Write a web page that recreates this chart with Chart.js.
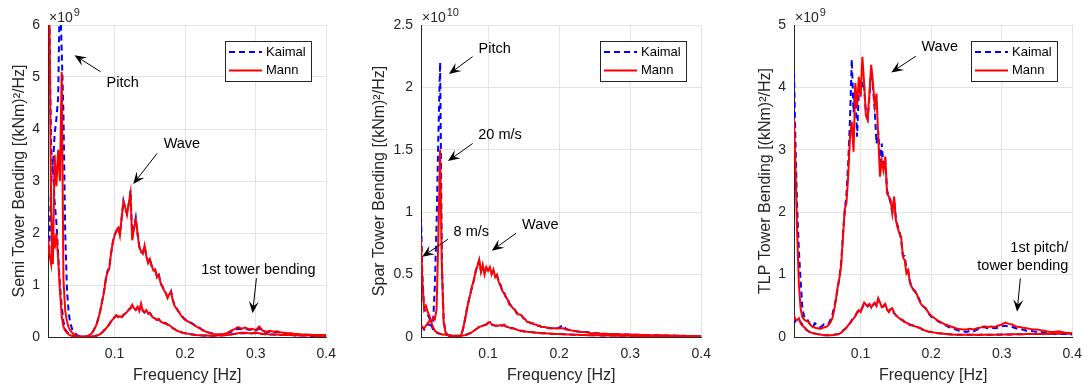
<!DOCTYPE html>
<html>
<head>
<meta charset="utf-8">
<script src="https://cdn.jsdelivr.net/npm/chart.js@4.4.1/dist/chart.umd.min.js"></script>
<style>
  body { margin: 0; background: #fff; }
  #wrap { position: relative; width: 1091px; height: 389px; }
  canvas { position: absolute; top: 0; }
</style>
</head>
<body>
<div id="wrap">
  <canvas id="semiChart" width="345" height="389" style="left:0px"></canvas>
  <canvas id="sparChart" width="360" height="389" style="left:360px"></canvas>
  <canvas id="tlpChart" width="345" height="389" style="left:746px"></canvas>
</div>
<script>
// Frequency grid shared by every panel [Hz]
const freq = [
  0.0056, 0.0075, 0.01, 0.0125, 0.015, 0.0175, 0.02, 0.0225, 0.025,
  0.0275, 0.03, 0.0325, 0.035, 0.0375, 0.04, 0.0425, 0.045, 0.0475, 0.05,
  0.0525, 0.055, 0.0575, 0.06, 0.0625, 0.065, 0.0675, 0.07, 0.0725, 0.075,
  0.0775, 0.08, 0.0825, 0.085, 0.0875, 0.09, 0.0925, 0.095, 0.0975, 0.1,
  0.1025, 0.105, 0.1075, 0.11, 0.1125, 0.115, 0.1175, 0.12, 0.1225, 0.125,
  0.1275, 0.13, 0.1325, 0.135, 0.1375, 0.14, 0.1425, 0.145, 0.1475, 0.15,
  0.1525, 0.155, 0.1575, 0.16, 0.1625, 0.165, 0.1675, 0.17, 0.1725, 0.175,
  0.1775, 0.18, 0.1825, 0.185, 0.1875, 0.19, 0.1925, 0.195, 0.1975, 0.2,
  0.205, 0.21, 0.215, 0.22, 0.225, 0.23, 0.235, 0.24, 0.245, 0.25,
  0.255, 0.26, 0.265, 0.27, 0.275, 0.28, 0.285, 0.29, 0.295, 0.3,
  0.305, 0.31, 0.315, 0.32, 0.325, 0.33, 0.335, 0.34, 0.345, 0.35,
  0.355, 0.36, 0.365, 0.37, 0.375, 0.38, 0.385, 0.39, 0.395, 0.4
];
const xTicks = [0.1, 0.2, 0.3, 0.4];

// Semi tower bending PSD, x10^9 (kNm)^2/Hz
const semiMann20 = [
  9.5, 6.5, 2.4, 1.4, 3.5, 2.9, 3.6, 3.0, 5.1,
  1.1, 0.5, 0.3, 0.18, 0.12, 0.08, 0.05, 0.03, 0.02, 0.015,
  0.01, 0.008, 0.006, 0.01, 0.02, 0.04, 0.07, 0.12, 0.18, 0.26,
  0.38, 0.52, 0.7, 0.86, 1.12, 1.25, 1.32, 1.62, 1.82, 1.95,
  2.05, 2.1, 1.95, 2.3, 2.6, 2.5, 2.35, 2.57, 2.77, 1.86,
  2.1, 2.25, 2.0, 1.72, 1.65, 1.6, 1.76, 1.55, 1.42, 1.5,
  1.38, 1.28, 1.3, 1.15, 1.2, 1.05, 0.97, 0.9, 0.85, 0.75,
  0.82, 0.87, 0.7, 0.6, 0.55, 0.5, 0.45, 0.4, 0.36, 0.33,
  0.29, 0.25, 0.21, 0.17, 0.13, 0.1, 0.08, 0.06, 0.05, 0.05,
  0.06, 0.08, 0.12, 0.15, 0.19, 0.16, 0.18, 0.15, 0.16, 0.13,
  0.2, 0.12, 0.1, 0.12, 0.1, 0.11, 0.09, 0.08, 0.07, 0.07,
  0.06, 0.06, 0.05, 0.05, 0.05, 0.04, 0.04, 0.04, 0.04, 0.04
];
const semiKaimal20 = [
  9.0, 6.2, 3.6, 3.3, 3.9, 4.2, 4.6, 6.8, 5.5,
  4.3, 2.0, 0.9, 0.45, 0.25, 0.15, 0.1, 0.06, 0.03, 0.02,
  0.01, 0.008, 0.006, 0.01, 0.02, 0.04, 0.07, 0.12, 0.19, 0.27,
  0.4, 0.53, 0.7, 0.88, 1.1, 1.27, 1.35, 1.6, 1.83, 1.97,
  2.03, 2.12, 1.98, 2.28, 2.62, 2.48, 2.38, 2.55, 2.82, 1.9,
  2.12, 2.3, 1.98, 1.75, 1.63, 1.62, 1.74, 1.57, 1.45, 1.5,
  1.36, 1.3, 1.28, 1.17, 1.22, 1.03, 0.98, 0.92, 0.84, 0.77,
  0.8, 0.88, 0.72, 0.6, 0.57, 0.5, 0.46, 0.42, 0.37, 0.34,
  0.3, 0.26, 0.22, 0.18, 0.13, 0.1, 0.08, 0.06, 0.05, 0.05,
  0.05, 0.07, 0.1, 0.13, 0.16, 0.15, 0.16, 0.14, 0.14, 0.12,
  0.16, 0.11, 0.09, 0.1, 0.09, 0.1, 0.08, 0.07, 0.06, 0.06,
  0.05, 0.05, 0.05, 0.04, 0.04, 0.04, 0.03, 0.03, 0.03, 0.03
];
const semiMann8 = [
  1.9, 1.6, 1.4, 2.1, 1.7, 2.0, 1.5, 0.9, 0.4,
  0.2, 0.12, 0.08, 0.05, 0.03, 0.02, 0.015, 0.01, 0.008, 0.006,
  0.005, 0.005, 0.005, 0.005, 0.005, 0.006, 0.008, 0.01, 0.02, 0.03,
  0.04, 0.06, 0.09, 0.12, 0.16, 0.2, 0.24, 0.3, 0.34, 0.38,
  0.42, 0.38, 0.4, 0.38, 0.42, 0.45, 0.48, 0.52, 0.56, 0.62,
  0.55, 0.52, 0.58, 0.5, 0.64, 0.5, 0.48, 0.52, 0.45, 0.47,
  0.4, 0.37, 0.36, 0.33, 0.35, 0.3, 0.28, 0.26, 0.27, 0.24,
  0.23, 0.2, 0.17, 0.15, 0.13, 0.11, 0.1, 0.09, 0.08, 0.07,
  0.06, 0.05, 0.04, 0.035, 0.03, 0.03, 0.025, 0.025, 0.03, 0.03,
  0.035, 0.04, 0.05, 0.06, 0.07, 0.08, 0.08, 0.07, 0.07, 0.08,
  0.07, 0.06, 0.06, 0.05, 0.05, 0.05, 0.04, 0.04, 0.04, 0.04,
  0.04, 0.03, 0.03, 0.03, 0.03, 0.03, 0.02, 0.02, 0.02, 0.02
];
const semiKaimal8 = [
  1.75, 1.7, 3.0, 3.3, 2.6, 2.2, 1.6, 1.0, 0.6,
  0.3, 0.15, 0.1, 0.06, 0.04, 0.025, 0.018, 0.012, 0.009, 0.007,
  0.005, 0.005, 0.005, 0.005, 0.005, 0.006, 0.008, 0.012, 0.02, 0.03,
  0.045, 0.06, 0.09, 0.13, 0.16, 0.2, 0.25, 0.3, 0.35, 0.38,
  0.41, 0.39, 0.4, 0.37, 0.43, 0.45, 0.47, 0.53, 0.55, 0.6,
  0.56, 0.52, 0.57, 0.5, 0.62, 0.5, 0.47, 0.51, 0.45, 0.46,
  0.41, 0.37, 0.35, 0.33, 0.34, 0.3, 0.28, 0.27, 0.26, 0.24,
  0.22, 0.2, 0.17, 0.15, 0.13, 0.11, 0.1, 0.09, 0.08, 0.07,
  0.06, 0.05, 0.04, 0.035, 0.03, 0.03, 0.025, 0.025, 0.03, 0.03,
  0.035, 0.04, 0.05, 0.06, 0.065, 0.07, 0.07, 0.07, 0.07, 0.07,
  0.06, 0.06, 0.05, 0.05, 0.05, 0.04, 0.04, 0.04, 0.04, 0.04,
  0.03, 0.03, 0.03, 0.03, 0.03, 0.02, 0.02, 0.02, 0.02, 0.02
];

// Spar tower bending PSD, x10^10 (kNm)^2/Hz
const sparMann20 = [
  0.09, 0.08, 0.07, 0.09, 0.11, 0.13, 0.12, 0.15, 0.14,
  0.22, 0.8, 1.5, 0.55, 0.12, 0.04, 0.02, 0.01, 0.005, 0.002,
  0.001, 0.001, 0.002, 0.005, 0.02, 0.07, 0.14, 0.21, 0.29, 0.34,
  0.41, 0.45, 0.53, 0.57, 0.62, 0.52, 0.58, 0.5, 0.56, 0.53,
  0.56, 0.5, 0.54, 0.48, 0.5, 0.44, 0.41, 0.37, 0.35, 0.32,
  0.3, 0.26, 0.25, 0.23, 0.22, 0.19, 0.18, 0.18, 0.17, 0.15,
  0.14, 0.12, 0.12, 0.11, 0.11, 0.1, 0.1, 0.09, 0.09, 0.08,
  0.08, 0.08, 0.075, 0.07, 0.07, 0.07, 0.07, 0.07, 0.068, 0.07,
  0.07, 0.06, 0.055, 0.05, 0.045, 0.04, 0.04, 0.035, 0.03, 0.03,
  0.028, 0.027, 0.026, 0.025, 0.024, 0.023, 0.022, 0.021, 0.02, 0.02,
  0.019, 0.018, 0.017, 0.016, 0.016, 0.015, 0.015, 0.014, 0.014, 0.013,
  0.012, 0.012, 0.011, 0.01, 0.01, 0.009, 0.008, 0.008, 0.007, 0.006
];
const sparKaimal20 = [
  0.09, 0.08, 0.06, 0.08, 0.1, 0.1, 0.09, 0.1, 0.4,
  0.9, 1.6, 2.2, 0.6, 0.13, 0.045, 0.02, 0.01, 0.005, 0.002,
  0.001, 0.001, 0.002, 0.005, 0.02, 0.07, 0.14, 0.22, 0.28, 0.35,
  0.4, 0.46, 0.52, 0.58, 0.61, 0.53, 0.57, 0.51, 0.55, 0.54,
  0.55, 0.51, 0.53, 0.49, 0.49, 0.45, 0.42, 0.37, 0.36, 0.32,
  0.31, 0.27, 0.25, 0.24, 0.22, 0.2, 0.18, 0.18, 0.17, 0.15,
  0.14, 0.13, 0.12, 0.11, 0.11, 0.1, 0.1, 0.09, 0.09, 0.08,
  0.08, 0.08, 0.075, 0.075, 0.07, 0.07, 0.07, 0.07, 0.07, 0.075,
  0.095, 0.065, 0.055, 0.05, 0.045, 0.045, 0.04, 0.04, 0.03, 0.03,
  0.03, 0.028, 0.026, 0.025, 0.024, 0.023, 0.022, 0.021, 0.02, 0.02,
  0.019, 0.018, 0.017, 0.016, 0.016, 0.015, 0.015, 0.014, 0.014, 0.013,
  0.012, 0.012, 0.011, 0.01, 0.01, 0.009, 0.008, 0.008, 0.007, 0.006
];
const sparMann8 = [
  0.79, 0.45, 0.22, 0.25, 0.2, 0.17, 0.12, 0.08, 0.05,
  0.04, 0.03, 0.025, 0.02, 0.02, 0.018, 0.016, 0.014, 0.012, 0.01,
  0.01, 0.01, 0.01, 0.01, 0.01, 0.012, 0.015, 0.02, 0.025, 0.03,
  0.04, 0.05, 0.06, 0.07, 0.08, 0.085, 0.09, 0.095, 0.1, 0.115,
  0.12, 0.1, 0.095, 0.09, 0.09, 0.09, 0.095, 0.09, 0.1, 0.085,
  0.08, 0.075, 0.07, 0.07, 0.065, 0.06, 0.055, 0.05, 0.05, 0.045,
  0.045, 0.042, 0.04, 0.04, 0.038, 0.036, 0.035, 0.034, 0.032, 0.03,
  0.03, 0.03, 0.028, 0.028, 0.027, 0.026, 0.025, 0.025, 0.024, 0.024,
  0.022, 0.021, 0.02, 0.019, 0.018, 0.017, 0.016, 0.015, 0.015, 0.014,
  0.014, 0.013, 0.013, 0.012, 0.012, 0.011, 0.011, 0.01, 0.01, 0.01,
  0.01, 0.009, 0.009, 0.009, 0.008, 0.008, 0.008, 0.007, 0.007, 0.007,
  0.007, 0.006, 0.006, 0.006, 0.006, 0.005, 0.005, 0.005, 0.005, 0.005
];
const sparKaimal8 = [
  0.97, 0.5, 0.22, 0.2, 0.18, 0.15, 0.1, 0.06, 0.04,
  0.035, 0.03, 0.025, 0.022, 0.02, 0.018, 0.016, 0.014, 0.012, 0.01,
  0.01, 0.01, 0.01, 0.01, 0.01, 0.012, 0.015, 0.02, 0.026, 0.032,
  0.04, 0.05, 0.06, 0.07, 0.08, 0.085, 0.09, 0.095, 0.1, 0.11,
  0.115, 0.1, 0.095, 0.09, 0.092, 0.09, 0.095, 0.09, 0.095, 0.085,
  0.08, 0.075, 0.07, 0.07, 0.065, 0.06, 0.055, 0.05, 0.05, 0.045,
  0.045, 0.042, 0.04, 0.04, 0.038, 0.036, 0.035, 0.034, 0.032, 0.03,
  0.03, 0.03, 0.028, 0.028, 0.027, 0.026, 0.025, 0.025, 0.024, 0.024,
  0.022, 0.021, 0.02, 0.019, 0.018, 0.017, 0.016, 0.015, 0.015, 0.014,
  0.014, 0.013, 0.013, 0.012, 0.012, 0.011, 0.011, 0.01, 0.01, 0.01,
  0.01, 0.009, 0.009, 0.009, 0.008, 0.008, 0.008, 0.007, 0.007, 0.007,
  0.007, 0.006, 0.006, 0.006, 0.006, 0.005, 0.005, 0.005, 0.005, 0.005
];

// TLP tower bending PSD, x10^9 (kNm)^2/Hz
const tlpMann20 = [
  3.5, 2.8, 1.7, 0.85, 0.45, 0.32, 0.28, 0.26, 0.25,
  0.22, 0.18, 0.16, 0.15, 0.14, 0.14, 0.13, 0.14, 0.15, 0.16,
  0.17, 0.2, 0.24, 0.3, 0.43, 0.6, 0.8, 0.95, 1.15, 1.6,
  2.05, 2.15, 2.6, 3.2, 3.45, 2.97, 4.07, 3.69, 4.17, 3.85,
  4.49, 4.07, 3.55, 3.48, 3.9, 4.36, 4.07, 3.7, 3.9, 3.21,
  2.57, 2.83, 2.67, 2.89, 2.3, 2.25, 2.2, 1.98, 2.25, 1.87,
  1.75, 1.66, 1.6, 1.28, 1.23, 1.02, 1.07, 0.86, 0.8, 0.75,
  0.72, 0.68, 0.6, 0.54, 0.5, 0.48, 0.46, 0.41, 0.37, 0.34,
  0.3, 0.26, 0.23, 0.2, 0.18, 0.16, 0.14, 0.13, 0.12, 0.12,
  0.13, 0.12, 0.14, 0.15, 0.17, 0.16, 0.17, 0.16, 0.18, 0.2,
  0.23, 0.21, 0.2, 0.17, 0.16, 0.15, 0.14, 0.13, 0.12, 0.12,
  0.11, 0.1, 0.09, 0.08, 0.08, 0.09, 0.08, 0.07, 0.06, 0.06
];
const tlpKaimal20 = [
  4.25, 3.2, 2.1, 1.4, 0.9, 0.45, 0.33, 0.28, 0.27,
  0.22, 0.16, 0.16, 0.22, 0.2, 0.17, 0.16, 0.17, 0.2, 0.19,
  0.2, 0.22, 0.28, 0.36, 0.48, 0.6, 0.78, 0.95, 1.2, 1.65,
  2.0, 2.3, 2.8, 3.5, 4.45, 3.6, 4.0, 3.21, 3.95, 3.9,
  4.1, 4.0, 3.6, 3.5, 3.85, 4.3, 4.0, 3.65, 3.1, 3.3,
  2.8, 3.1, 2.7, 2.8, 2.35, 2.25, 2.15, 2.0, 2.2, 1.9,
  1.78, 1.7, 1.55, 1.3, 1.3, 1.08, 1.05, 0.88, 0.82, 0.76,
  0.73, 0.68, 0.62, 0.56, 0.5, 0.48, 0.45, 0.4, 0.36, 0.33,
  0.29, 0.25, 0.22, 0.19, 0.16, 0.14, 0.12, 0.1, 0.09, 0.08,
  0.1, 0.09, 0.12, 0.14, 0.16, 0.14, 0.15, 0.14, 0.15, 0.17,
  0.18, 0.17, 0.16, 0.14, 0.12, 0.12, 0.1, 0.1, 0.09, 0.08,
  0.08, 0.07, 0.07, 0.06, 0.05, 0.05, 0.05, 0.05, 0.04, 0.04
];
const tlpMann8 = [
  0.35, 0.28, 0.27, 0.3, 0.22, 0.18, 0.16, 0.13, 0.1,
  0.085, 0.07, 0.06, 0.055, 0.05, 0.045, 0.04, 0.035, 0.03, 0.03,
  0.03, 0.03, 0.03, 0.03, 0.035, 0.04, 0.045, 0.05, 0.07, 0.1,
  0.12, 0.15, 0.19, 0.22, 0.26, 0.3, 0.33, 0.4, 0.43, 0.4,
  0.48, 0.55, 0.52, 0.5, 0.53, 0.47, 0.52, 0.55, 0.5, 0.62,
  0.55, 0.48, 0.5, 0.53, 0.44, 0.4, 0.45, 0.46, 0.38, 0.35,
  0.32, 0.3, 0.28, 0.27, 0.24, 0.23, 0.21, 0.19, 0.19, 0.18,
  0.17, 0.16, 0.15, 0.14, 0.12, 0.11, 0.1, 0.09, 0.085, 0.08,
  0.07, 0.06, 0.055, 0.05, 0.045, 0.04, 0.038, 0.035, 0.035, 0.035,
  0.035, 0.036, 0.034, 0.035, 0.037, 0.036, 0.035, 0.038, 0.04, 0.04,
  0.042, 0.04, 0.043, 0.045, 0.044, 0.046, 0.048, 0.05, 0.05, 0.05,
  0.052, 0.05, 0.053, 0.055, 0.055, 0.058, 0.06, 0.06, 0.06, 0.06
];
const tlpKaimal8 = [
  0.33, 0.25, 0.28, 0.27, 0.24, 0.2, 0.15, 0.12, 0.1,
  0.08, 0.07, 0.06, 0.055, 0.05, 0.045, 0.04, 0.035, 0.032, 0.03,
  0.03, 0.03, 0.03, 0.032, 0.035, 0.04, 0.045, 0.055, 0.075, 0.1,
  0.13, 0.15, 0.2, 0.22, 0.27, 0.3, 0.34, 0.39, 0.42, 0.41,
  0.47, 0.54, 0.52, 0.49, 0.52, 0.48, 0.51, 0.54, 0.5, 0.6,
  0.54, 0.48, 0.49, 0.52, 0.44, 0.41, 0.44, 0.45, 0.38, 0.35,
  0.32, 0.3, 0.28, 0.26, 0.24, 0.23, 0.21, 0.2, 0.19, 0.18,
  0.17, 0.16, 0.15, 0.14, 0.12, 0.11, 0.1, 0.09, 0.085, 0.08,
  0.07, 0.06, 0.055, 0.05, 0.045, 0.04, 0.038, 0.035, 0.035, 0.035,
  0.035, 0.035, 0.034, 0.035, 0.036, 0.036, 0.035, 0.037, 0.038, 0.04,
  0.04, 0.04, 0.042, 0.044, 0.044, 0.045, 0.046, 0.048, 0.048, 0.05,
  0.05, 0.05, 0.052, 0.053, 0.054, 0.055, 0.056, 0.057, 0.058, 0.058
];

// Text + arrow annotations, in data units of each panel
const semiNotes = {
  exp: '9',
  texts: [
    { t: 'Pitch', x: 0.0885, y: 4.89 },
    { t: 'Wave', x: 0.1695, y: 3.72 },
    { t: '1st tower bending', x: 0.2227, y: 1.29 }
  ],
  arrows: [[0.0802, 5.10, 0.0431, 5.42], [0.1602, 3.53, 0.1264, 2.94], [0.301, 1.13, 0.2955, 0.456]]
};
const sparNotes = {
  exp: '10',
  texts: [
    { t: 'Pitch', x: 0.0866, y: 2.305 },
    { t: '20 m/s', x: 0.0862, y: 1.62 },
    { t: '8 m/s', x: 0.0514, y: 0.844 },
    { t: 'Wave', x: 0.1477, y: 0.897 }
  ],
  arrows: [[0.0782, 2.246, 0.0449, 2.107], [0.0782, 1.55, 0.0435, 1.41], [0.0435, 0.783, 0.0074, 0.643], [0.1394, 0.831, 0.1052, 0.692]]
};
const tlpNotes = {
  exp: '9',
  texts: [
    { t: 'Wave', x: 0.1862, y: 4.65 },
    { t: '1st pitch/', x: 0.3945, y: 1.42, align: 'right' },
    { t: 'tower bending', x: 0.3945, y: 1.13, align: 'right' }
  ],
  arrows: [[0.1783, 4.5, 0.1435, 4.24], [0.3264, 0.94, 0.3218, 0.405]]
};

const FONT = "'Liberation Sans', Arial, Helvetica, sans-serif";
const INK = '#262626';
Chart.defaults.font.family = FONT;
Chart.defaults.color = INK;

function pairs(values) {
  return freq.map((f, i) => ({ x: f, y: values[i] }));
}

function lineSet(label, values, color, dashed) {
  return {
    label: label,
    data: pairs(values),
    borderColor: color,
    borderWidth: 2,
    borderDash: dashed ? [6, 4] : [],
    pointRadius: 0,
    tension: 0,
    fill: false,
    order: dashed ? 2 : 1
  };
}

function drawArrow(ctx, x1, y1, x2, y2) {
  const ang = Math.atan2(y2 - y1, x2 - x1);
  const L = 12, W = 5;
  ctx.save();
  ctx.strokeStyle = '#000';
  ctx.fillStyle = '#000';
  ctx.lineWidth = 1;
  ctx.beginPath();
  ctx.moveTo(x1, y1);
  ctx.lineTo(x2 - L * 0.6 * Math.cos(ang), y2 - L * 0.6 * Math.sin(ang));
  ctx.stroke();
  ctx.translate(x2, y2);
  ctx.rotate(ang);
  ctx.beginPath();
  ctx.moveTo(0, 0);
  ctx.lineTo(-L, -W);
  ctx.lineTo(-L * 0.6, 0);
  ctx.lineTo(-L, W);
  ctx.closePath();
  ctx.fill();
  ctx.restore();
}

// draws the legend box, the x10^n label and the annotations
function notesPlugin(notes) {
  return {
    id: 'notes',
    afterDraw(chart) {
      const ctx = chart.ctx;
      const a = chart.chartArea;
      const sx = chart.scales.x, sy = chart.scales.y;

      notes.arrows.forEach(ar => {
        drawArrow(ctx, sx.getPixelForValue(ar[0]), sy.getPixelForValue(ar[1]),
          sx.getPixelForValue(ar[2]), sy.getPixelForValue(ar[3]));
      });

      ctx.save();
      ctx.fillStyle = '#000';
      ctx.font = '14.5px ' + FONT;
      ctx.textBaseline = 'middle';
      notes.texts.forEach(t => {
        ctx.textAlign = t.align || 'left';
        ctx.fillText(t.t, sx.getPixelForValue(t.x), sy.getPixelForValue(t.y));
      });

      // exponent label
      ctx.fillStyle = INK;
      ctx.textAlign = 'left';
      ctx.textBaseline = 'alphabetic';
      ctx.font = '14px ' + FONT;
      ctx.fillText('\u00d710', a.left + 1, 22);
      const w = ctx.measureText('\u00d710').width;
      ctx.font = '11px ' + FONT;
      ctx.fillText(notes.exp, a.left + 2 + w, 16);

      // legend
      const bw = 86, bh = 40;
      const left = Math.round(a.right - 15 - bw), top = Math.round(a.top + 16);
      ctx.fillStyle = '#fff';
      ctx.fillRect(left, top, bw, bh);
      ctx.strokeStyle = INK;
      ctx.lineWidth = 1;
      ctx.strokeRect(left + 0.5, top + 0.5, bw, bh);
      const rows = [
        { label: 'Kaimal', color: '#0000ff', dash: [6, 4] },
        { label: 'Mann', color: '#ff0000', dash: [] }
      ];
      rows.forEach((r, i) => {
        const y = top + 11 + i * 18.5;
        ctx.beginPath();
        ctx.setLineDash(r.dash);
        ctx.strokeStyle = r.color;
        ctx.lineWidth = 2;
        ctx.moveTo(left + 4, y);
        ctx.lineTo(left + 37, y);
        ctx.stroke();
        ctx.setLineDash([]);
        ctx.fillStyle = '#000';
        ctx.font = '13px ' + FONT;
        ctx.textBaseline = 'middle';
        ctx.fillText(r.label, left + 41, y);
      });
      ctx.restore();
    }
  };
}

function makeChart(id, sets, opts) {
  const ctx = document.getElementById(id).getContext('2d');
  return new Chart(ctx, {
    type: 'line',
    data: { datasets: sets },
    options: {
      responsive: false,
      animation: false,
      layout: { padding: { top: 25, right: opts.padRight, left: 0, bottom: 0 } },
      plugins: { legend: { display: false }, tooltip: { enabled: false } },
      scales: {
        x: {
          type: 'linear',
          min: 0.0056,
          max: 0.4,
          afterBuildTicks: s => { s.ticks = xTicks.map(v => ({ value: v })); },
          afterFit: s => { s.height = 52; },
          ticks: { padding: 9, font: { size: 14 }, color: INK, maxRotation: 0,
            callback: v => String(Number(v.toFixed(2))) },
          grid: { color: '#e3e3e3', drawTicks: false },
          border: { display: true, color: INK, width: 1 },
          title: { display: true, text: 'Frequency [Hz]', font: { size: 16 }, color: INK,
            padding: { top: 0, bottom: 4 } }
        },
        y: {
          min: 0,
          max: opts.ymax,
          afterFit: s => { s.width = opts.yWidth; },
          ticks: { stepSize: opts.step, padding: 8, font: { size: 14 }, color: INK,
            callback: v => String(Number(v.toFixed(2))) },
          grid: { color: '#e3e3e3', drawTicks: false },
          border: { display: true, color: INK, width: 1 },
          title: { display: true, text: opts.ytitle, font: { size: 16 }, color: INK,
            padding: { top: 10, bottom: 0 } }
        }
      }
    },
    plugins: [notesPlugin(opts.notes)]
  });
}

// Render the three panels
makeChart('semiChart', [
  lineSet('Mann', semiMann20, '#ff0000', false),
  lineSet('Mann', semiMann8, '#ff0000', false),
  lineSet('Kaimal', semiKaimal20, '#0000ff', true),
  lineSet('Kaimal', semiKaimal8, '#0000ff', true)
], { ymax: 6, step: 1, yWidth: 48, padRight: 13, ytitle: 'Semi Tower Bending [(kNm)\u00b2/Hz]', notes: semiNotes });

makeChart('sparChart', [
  lineSet('Mann', sparMann20, '#ff0000', false),
  lineSet('Mann', sparMann8, '#ff0000', false),
  lineSet('Kaimal', sparKaimal20, '#0000ff', true),
  lineSet('Kaimal', sparKaimal8, '#0000ff', true)
], { ymax: 2.5, step: 0.5, yWidth: 61, padRight: 16, ytitle: 'Spar Tower Bending [(kNm)\u00b2/Hz]', notes: sparNotes });

makeChart('tlpChart', [
  lineSet('Mann', tlpMann20, '#ff0000', false),
  lineSet('Mann', tlpMann8, '#ff0000', false),
  lineSet('Kaimal', tlpKaimal20, '#0000ff', true),
  lineSet('Kaimal', tlpKaimal8, '#0000ff', true)
], { ymax: 5, step: 1, yWidth: 48, padRight: 13, ytitle: 'TLP Tower Bending [(kNm)\u00b2/Hz]', notes: tlpNotes });
</script>
</body>
</html>
